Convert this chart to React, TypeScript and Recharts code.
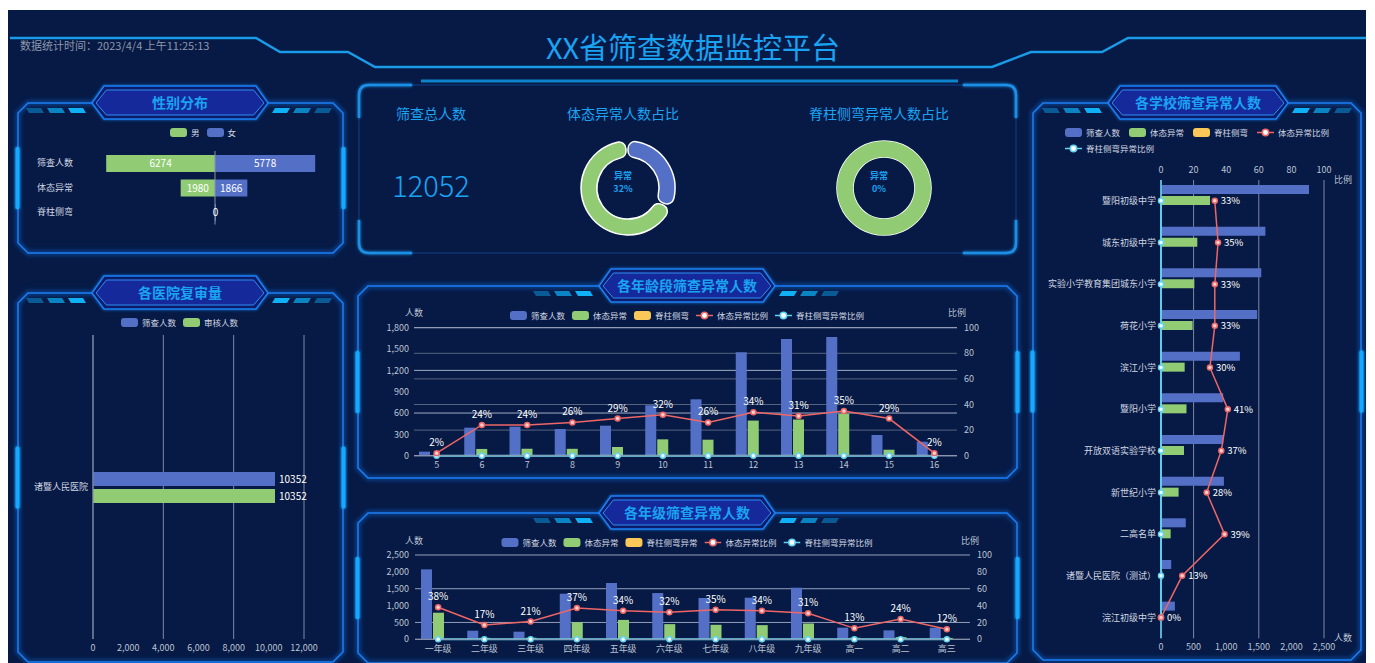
import React from 'react';
import {
  BarChart, Bar, ComposedChart, Line, XAxis, YAxis, CartesianGrid, LabelList,
  PieChart, Pie, Cell, ReferenceLine,
} from 'recharts';

const FONT = '"Noto Sans CJK SC", "Noto Sans", sans-serif';
const BLUE = '#5470c6';
const GREEN = '#91cc75';
const YELLOW = '#fac858';
const RED = '#ee6666';
const CYAN = '#63d3f2';
const TITLE = '#1aa3f2';
const TICK = '#bcc3d2';
const LABEL = '#d2d7e2';

// 性别分布
const genderCats = ['筛查人数', '体态异常', '脊柱侧弯'];
const genderMale = [6274, 1980, 0];
const genderFemale = [5778, 1866, 0];

// 各医院复审量
const hospitalNames = ['诸暨人民医院'];
const hospitalScreened = [10352];
const hospitalReviewed = [10352];
const hospitalTicks = [0, 2000, 4000, 6000, 8000, 10000, 12000];

// 汇总
const totalScreened = 12052;
const postureAbnormalTotal = 3846;
const spineAbnormalTotal = 0;

// 各年龄段
const ageCats = ['5', '6', '7', '8', '9', '10', '11', '12', '13', '14', '15', '16'];
const ageScreened = [57, 394, 408, 375, 422, 709, 793, 1454, 1641, 1669, 291, 197];
const agePosture = [1, 95, 98, 97, 122, 230, 225, 494, 509, 590, 84, 4];
const ageSpine = [0, 0, 0, 0, 0, 0, 0, 0, 0, 0, 0, 0];
const agePostureRate = [2, 24, 24, 26, 29, 32, 26, 34, 31, 35, 29, 2];
const ageSpineRate = [0, 0, 0, 0, 0, 0, 0, 0, 0, 0, 0, 0];
const ageLeftTicks = [0, 300, 600, 900, 1200, 1500, 1800];
const rateTicks = [0, 20, 40, 60, 80, 100];

// 各年级
const gradeCats = ['一年级', '二年级', '三年级', '四年级', '五年级', '六年级', '七年级', '八年级', '九年级', '高一', '高二', '高三'];
const gradeScreened = [2075, 255, 225, 1352, 1669, 1372, 1224, 1234, 1530, 344, 266, 344];
const gradePosture = [789, 43, 47, 505, 575, 450, 430, 420, 470, 45, 64, 41];
const gradeSpine = [0, 0, 0, 0, 0, 0, 0, 0, 0, 0, 0, 0];
const gradePostureRate = [38, 17, 21, 37, 34, 32, 35, 34, 31, 13, 24, 12];
const gradeSpineRate = [0, 0, 0, 0, 0, 0, 0, 0, 0, 0, 0, 0];
const gradeLeftTicks = [0, 500, 1000, 1500, 2000, 2500];

// 各学校
const schoolNames = ['暨阳初级中学', '城东初级中学', '实验小学教育集团城东小学', '荷花小学', '滨江小学', '暨阳小学', '开放双语实验学校', '新世纪小学', '二高名单', '诸暨人民医院（测试）', '浣江初级中学'];
const schoolScreened = [2270, 1601, 1538, 1475, 1210, 954, 954, 965, 380, 157, 213];
const schoolPosture = [752, 557, 511, 485, 363, 391, 353, 270, 148, 20, 0];
const schoolSpine = [0, 0, 0, 0, 0, 0, 0, 0, 0, 0, 0];
const schoolPostureRate = [33, 35, 33, 33, 30, 41, 37, 28, 39, 13, 0];
const schoolSpineRate = [0, 0, 0, 0, 0, 0, 0, 0, 0, 0, 0];
const schoolCountTicks = [0, 500, 1000, 1500, 2000, 2500];

const genderData = genderCats.map((c, i) => ({ name: c, male: -genderMale[i], female: genderFemale[i] }));
const hospitalData = hospitalNames.map((n, i) => ({ name: n, screened: hospitalScreened[i], reviewed: hospitalReviewed[i] }));
const ageData = ageCats.map((c, i) => ({
  name: c, screened: ageScreened[i], posture: agePosture[i], spine: ageSpine[i],
  rate: agePostureRate[i], spineRate: ageSpineRate[i],
}));
const gradeData = gradeCats.map((c, i) => ({
  name: c, screened: gradeScreened[i], posture: gradePosture[i], spine: gradeSpine[i],
  rate: gradePostureRate[i], spineRate: gradeSpineRate[i],
}));
const schoolData = schoolNames.map((n, i) => ({
  name: n, screened: schoolScreened[i], posture: schoolPosture[i], spine: schoolSpine[i],
  rate: schoolPostureRate[i], spineRate: schoolSpineRate[i],
}));
const postureShare = Math.round((postureAbnormalTotal / totalScreened) * 100);
const spineShare = Math.round((spineAbnormalTotal / totalScreened) * 100);
const postureDonut = [
  { name: '异常', value: postureAbnormalTotal },
  { name: '正常', value: totalScreened - postureAbnormalTotal },
];
const spineDonut = [
  { name: '异常', value: spineAbnormalTotal },
  { name: '正常', value: totalScreened - spineAbnormalTotal },
];

const fmt = (v: number) => v.toLocaleString('en-US');
const pct = (v: any) => `${v}%`;
const tickStyle = { fill: TICK, fontSize: 9, fontFamily: FONT };

type LegendItem = { name: string; color: string; line?: boolean };

const Legend = ({ items, x, y, center, gap = 7 }: { items: LegendItem[]; x: number; y: number; center?: boolean; gap?: number }) => (
  <div style={{
    position: 'absolute', left: x, top: y, display: 'flex', alignItems: 'center', gap,
    transform: center ? 'translate(-50%, -50%)' : 'translateY(-50%)', whiteSpace: 'nowrap',
    fontFamily: FONT, fontSize: 8.5, color: LABEL,
  }}>
    {items.map((it) => (
      <div key={it.name} style={{ display: 'flex', alignItems: 'center', gap: 4 }}>
        {it.line ? (
          <svg width={17} height={9}>
            <line x1={0} y1={4.5} x2={17} y2={4.5} stroke={it.color} strokeWidth={1.5} />
            <circle cx={8.5} cy={4.5} r={3.2} fill="#fff" stroke={it.color} strokeWidth={1.5} />
          </svg>
        ) : (
          <div style={{ width: 17, height: 9, borderRadius: 3, background: it.color }} />
        )}
        <span>{it.name}</span>
      </div>
    ))}
  </div>
);

const Txt = ({ x, y, children, size = 9, color = TICK, weight = 400, lh = 1 }: any) => (
  <div style={{
    position: 'absolute', left: x, top: y, transform: 'translate(-50%, -50%)', whiteSpace: 'nowrap',
    fontFamily: FONT, fontSize: size, color, fontWeight: weight, lineHeight: lh, textAlign: 'center',
  }}>{children}</div>
);

const PanelFrame = ({ x, y, w, h, cx, title, tw = 176 }: any) => {
  const c = 10;
  const L = cx - tw / 2;
  const R = cx + tw / 2;
  const d = `M${L},${y} L${x + c},${y} L${x},${y + c} L${x},${y + h - c} L${x + c},${y + h} L${x + w - c},${y + h} L${x + w},${y + h - c} L${x + w},${y + c} L${x + w - c},${y} L${R},${y}`;
  const mid = y + h / 2;
  const hex = (i: number) =>
    `${L + i},${y} ${L + 12 + i * 0.6},${y - 17 + i} ${R - 12 - i * 0.6},${y - 17 + i} ${R - i},${y} ${R - 12 - i * 0.6},${y + 16 - i} ${L + 12 + i * 0.6},${y + 16 - i}`;
  const paraL = (px: number, py: number) => `${px},${py} ${px + 15},${py} ${px + 18},${py + 5} ${px + 3},${py + 5}`;
  const paraR = (px: number, py: number) => `${px + 3},${py} ${px + 18},${py} ${px + 15},${py + 5} ${px},${py + 5}`;
  const cols = ['#0a5a96', '#0b84c4', '#10b0f6'];
  return (
    <g>
      <path d={d} fill="none" stroke="#1670e6" strokeWidth={5} opacity={0.45} filter="url(#blur)" />
      <path d={d} fill="none" stroke="#1b7ff2" strokeWidth={1.5} />
      <rect x={x - 2.5} y={mid - 31} width={4} height={62} rx={1.5} fill="#14a8ff" filter="url(#glow)" />
      <rect x={x + w - 1.5} y={mid - 31} width={4} height={62} rx={1.5} fill="#14a8ff" filter="url(#glow)" />
      {[0, 1, 2].map((i) => <polygon key={'l' + i} points={paraL(L - 66 + i * 21, y + 5)} fill={cols[i]} />)}
      {[0, 1, 2].map((i) => <polygon key={'r' + i} points={paraR(R + 4 + i * 21, y + 5)} fill={cols[2 - i]} />)}
      <polygon points={hex(0)} fill="#0b1d6a" stroke="#1b7ff2" strokeWidth={1.5} filter="url(#glow)" />
      <polygon points={hex(4)} fill="#15299a" stroke="#2e8ef2" strokeWidth={1} />
      <text x={cx} y={y} dy="0.36em" textAnchor="middle" fill={TITLE} fontSize={14} fontWeight="bold" fontFamily={FONT}>{title}</text>
    </g>
  );
};

const GenderTick = (p: any) => (
  <text x={17} y={p.y} dy={3} fill={LABEL} fontSize={9} fontFamily={FONT}>{p.payload.value}</text>
);

const ringBase = [{ name: 'ring', value: 1 }];

const Donut = ({ cx, cy, data, share, full }: any) => (
  <>
    <div style={{ position: 'absolute', left: cx - 60, top: cy - 60 }}>
      <PieChart width={120} height={120}>
        {full && (
          <Pie data={ringBase} dataKey="value" cx={60} cy={60} innerRadius={30.2} outerRadius={47.8}
            startAngle={90} endAngle={-270} fill="#ffffff" stroke="none" isAnimationActive={false} />
        )}
        <Pie
          data={data} dataKey="value" cx={60} cy={60} innerRadius={31} outerRadius={47}
          startAngle={90} endAngle={-270} paddingAngle={full ? 0 : 3} cornerRadius={full ? 0 : 7}
          stroke={full ? 'none' : '#ffffff'} strokeWidth={1.5} isAnimationActive={false}
        >
          {data.map((d: any, i: number) => <Cell key={d.name} fill={i === 0 ? BLUE : GREEN} />)}
        </Pie>
      </PieChart>
    </div>
    <Txt x={cx} y={cy - 1} size={9} color={TITLE} weight={700} lh={1.45}>异常<br />{share}%</Txt>
  </>
);

const comboLegend = (spineName: string): LegendItem[] => [
  { name: '筛查人数', color: BLUE },
  { name: '体态异常', color: GREEN },
  { name: spineName, color: YELLOW },
  { name: '体态异常比例', color: RED, line: true },
  { name: '脊柱侧弯异常比例', color: CYAN, line: true },
];

const redDot = { r: 2.5, fill: '#ffd0d0', stroke: RED, strokeWidth: 1.5 };
const cyanDot = { r: 2.5, fill: '#ffffff', stroke: CYAN, strokeWidth: 1.5 };

export default function App() {
  return (
    <div style={{ position: 'absolute', left: 0, top: 0, width: 1375, height: 663, overflow: 'hidden', fontFamily: FONT }}>
      <div style={{ position: 'absolute', left: 8, top: 10, width: 1358, height: 653, background: '#061a45' }} />

      <svg width={1375} height={663} style={{ position: 'absolute', left: 0, top: 0 }}>
        <defs>
          <filter id="blur" x="-5%" y="-5%" width="110%" height="110%">
            <feGaussianBlur stdDeviation="2" />
          </filter>
          <filter id="glow" x="-50%" y="-50%" width="200%" height="200%">
            <feGaussianBlur stdDeviation="1.5" result="b" />
            <feMerge><feMergeNode in="b" /><feMergeNode in="SourceGraphic" /></feMerge>
          </filter>
        </defs>
        {/* header */}
        <path d="M10,38 L256,38 L280,52 L348,52 L375,67 L992,67 L1031,52 L1102,52 L1128,38 L1366,38"
          fill="none" stroke="#1a9be8" strokeWidth={2.5} />
        <line x1={421} y1={81} x2={958} y2={81} stroke="#0d84cc" strokeWidth={3} />

        {/* top centre frame */}
        <rect x={359} y={85} width={657} height={168} rx={10} fill="none" stroke="#123f86" strokeWidth={1} />
        <g fill="none" stroke="#1d8fe6" strokeWidth={2.5} filter="url(#glow)">
          <path d="M359,118 L359,95 Q359,85 369,85 L412,85" />
          <path d="M1016,118 L1016,95 Q1016,85 1006,85 L963,85" />
          <path d="M359,220 L359,243 Q359,253 369,253 L412,253" />
          <path d="M1016,220 L1016,243 Q1016,253 1006,253 L963,253" />
        </g>

        <PanelFrame x={18} y={103} w={325} h={150} cx={180} title="性别分布" />
        <PanelFrame x={18} y={293} w={325} h={369} cx={180} title="各医院复审量" />
        <PanelFrame x={358} y={286} w={659} h={192} cx={687} title="各年龄段筛查异常人数" />
        <PanelFrame x={358} y={513} w={659} h={150} cx={687} title="各年级筛查异常人数" />
        <PanelFrame x={1033} y={103} w={328} h={557} cx={1198} tw={180} title="各学校筛查异常人数" />
      </svg>

      {/* header text */}
      <div style={{ position: 'absolute', left: 20, top: 45, transform: 'translateY(-50%)', fontSize: 11, color: '#8e97ab', whiteSpace: 'nowrap', lineHeight: 1 }}>
        数据统计时间：2023/4/4 上午11:25:13
      </div>
      <Txt x={693} y={46} size={29} color={TITLE}>XX省筛查数据监控平台</Txt>

      {/* 性别分布 */}
      <Legend x={170} y={132} gap={7} items={[{ name: '男', color: GREEN }, { name: '女', color: BLUE }]} />
      <div style={{ position: 'absolute', left: 20, top: 140 }}>
        <BarChart layout="vertical" width={320} height={95} data={genderData} stackOffset="sign"
          margin={{ top: 11, right: 10, bottom: 10.5, left: 0 }} barSize={17}>
          <XAxis type="number" hide domain={[-7785, 6632]} allowDataOverflow />
          <YAxis type="category" dataKey="name" width={60} axisLine={false} tickLine={false} tick={GenderTick} interval={0} />
          <Bar dataKey="male" stackId="g" fill={GREEN} isAnimationActive={false}>
            <LabelList dataKey="male" position="center" fill="#fff" fontSize={10} formatter={(v: any) => Math.abs(v)} />
          </Bar>
          <Bar dataKey="female" stackId="g" fill={BLUE} minPointSize={1} isAnimationActive={false}>
            <LabelList dataKey="female" position="center" fill="#fff" fontSize={10} />
          </Bar>
          <ReferenceLine x={0} stroke="#8a93a8" strokeWidth={1} />
        </BarChart>
      </div>

      {/* 各医院复审量 */}
      <Legend x={121} y={322} gap={7} items={[{ name: '筛查人数', color: BLUE }, { name: '审核人数', color: GREEN }]} />
      <div style={{ position: 'absolute', left: 15, top: 325 }}>
        <BarChart layout="vertical" width={330} height={335} data={hospitalData}
          margin={{ top: 10, right: 41, bottom: 1, left: 0 }} barSize={14} barGap={3}>
          <CartesianGrid horizontal={false} stroke="#7d89a6" />
          <XAxis type="number" domain={[0, 12000]} ticks={hospitalTicks} tickFormatter={fmt} height={20}
            axisLine={false} tickLine={false} tickSize={4} tickMargin={2} tick={tickStyle} />
          <YAxis type="category" dataKey="name" width={78} axisLine={{ stroke: '#7d89a6' }} tickLine={false}
            tickSize={4} tickMargin={1} tick={{ ...tickStyle, fill: LABEL }} />
          <Bar dataKey="screened" fill={BLUE} isAnimationActive={false}>
            <LabelList dataKey="screened" position="right" offset={4} fill="#fff" fontSize={10} />
          </Bar>
          <Bar dataKey="reviewed" fill={GREEN} isAnimationActive={false}>
            <LabelList dataKey="reviewed" position="right" offset={4} fill="#fff" fontSize={10} />
          </Bar>
        </BarChart>
      </div>

      {/* 汇总 */}
      <Txt x={431} y={113} size={14} color={TITLE}>筛查总人数</Txt>
      <Txt x={431} y={184} size={29} color={TITLE} weight={300}>{totalScreened}</Txt>
      <Txt x={623} y={113} size={14} color={TITLE}>体态异常人数占比</Txt>
      <Txt x={879} y={113} size={14} color={TITLE}>脊柱侧弯异常人数占比</Txt>
      <Donut cx={623} cy={183} data={postureDonut} share={postureShare} />
      <Donut cx={879} cy={183} data={spineDonut} share={spineShare} full />

      {/* 各年龄段 */}
      <Legend x={687} y={315} center gap={7} items={comboLegend('脊柱侧弯')} />
      <Txt x={414} y={312}>人数</Txt>
      <Txt x={957} y={312}>比例</Txt>
      <div style={{ position: 'absolute', left: 358, top: 300 }}>
        <ComposedChart width={660} height={175} data={ageData} margin={{ top: 27.7, right: 0, bottom: 0, left: 0 }}
          barSize={11} barGap={1}>
          <CartesianGrid yAxisId="right" vertical={false} stroke="#56637f" />
          <CartesianGrid yAxisId="left" vertical={false} stroke="#a3adc5" />
          <XAxis dataKey="name" height={19.3} axisLine={{ stroke: '#8a93a8' }} tickLine={false}
            tickSize={4} tickMargin={2} tick={tickStyle} interval={0} />
          <YAxis yAxisId="left" width={56} domain={[0, 1800]} ticks={ageLeftTicks} tickFormatter={fmt}
            axisLine={false} tickLine={false} tickSize={0} tickMargin={5} tick={tickStyle} />
          <YAxis yAxisId="right" orientation="right" width={61} domain={[0, 100]} ticks={rateTicks}
            axisLine={false} tickLine={false} tickSize={0} tickMargin={7} tick={tickStyle} />
          <Bar yAxisId="left" dataKey="screened" fill={BLUE} isAnimationActive={false} />
          <Bar yAxisId="left" dataKey="posture" fill={GREEN} isAnimationActive={false} />
          <Bar yAxisId="left" dataKey="spine" fill={YELLOW} isAnimationActive={false} />
          <Line yAxisId="right" dataKey="spineRate" stroke={CYAN} strokeWidth={2} dot={cyanDot} activeDot={false} isAnimationActive={false} />
          <Line yAxisId="right" dataKey="rate" stroke={RED} strokeWidth={1.5} dot={redDot} activeDot={false} isAnimationActive={false}>
            <LabelList dataKey="rate" position="top" offset={7} fill="#fff" fontSize={10} formatter={pct} />
          </Line>
        </ComposedChart>
      </div>

      {/* 各年级 */}
      <Legend x={687} y={542} center gap={7} items={comboLegend('脊柱侧弯异常')} />
      <Txt x={414} y={540}>人数</Txt>
      <Txt x={970} y={540}>比例</Txt>
      <div style={{ position: 'absolute', left: 358, top: 545 }}>
        <ComposedChart width={660} height={114.3} data={gradeData} margin={{ top: 10, right: 0, bottom: 0, left: 0 }}
          barSize={11} barGap={1}>
          <CartesianGrid yAxisId="left" vertical={false} stroke="#95a0ba" />
          <XAxis dataKey="name" height={20} axisLine={{ stroke: '#8a93a8' }} tickLine={false}
            tickSize={4} tickMargin={2} tick={tickStyle} interval={0} />
          <YAxis yAxisId="left" width={57} domain={[0, 2500]} ticks={gradeLeftTicks} tickFormatter={fmt}
            axisLine={false} tickLine={false} tickSize={0} tickMargin={6} tick={tickStyle} />
          <YAxis yAxisId="right" orientation="right" width={48} domain={[0, 100]} ticks={rateTicks}
            axisLine={false} tickLine={false} tickSize={0} tickMargin={7} tick={tickStyle} />
          <Bar yAxisId="left" dataKey="screened" fill={BLUE} isAnimationActive={false} />
          <Bar yAxisId="left" dataKey="posture" fill={GREEN} isAnimationActive={false} />
          <Bar yAxisId="left" dataKey="spine" fill={YELLOW} isAnimationActive={false} />
          <Line yAxisId="right" dataKey="spineRate" stroke={CYAN} strokeWidth={2} dot={cyanDot} activeDot={false} isAnimationActive={false} />
          <Line yAxisId="right" dataKey="rate" stroke={RED} strokeWidth={1.5} dot={redDot} activeDot={false} isAnimationActive={false}>
            <LabelList dataKey="rate" position="top" offset={7} fill="#fff" fontSize={10} formatter={pct} />
          </Line>
        </ComposedChart>
      </div>

      {/* 各学校 */}
      <Legend x={1065} y={132} gap={9} items={comboLegend('脊柱侧弯').slice(0, 4)} />
      <Legend x={1065} y={148} gap={9} items={comboLegend('脊柱侧弯').slice(4)} />
      <Txt x={1343} y={179}>比例</Txt>
      <Txt x={1343} y={637}>人数</Txt>
      <div style={{ position: 'absolute', left: 1035, top: 160 }}>
        <ComposedChart layout="vertical" width={325} height={500} data={schoolData}
          margin={{ top: 0, right: 36, bottom: 1.7, left: 0 }} barSize={9} barGap={2}>
          <CartesianGrid horizontal={false} xAxisId="count" stroke="#7d89a6" />
          <XAxis xAxisId="ratio" orientation="top" type="number" domain={[0, 100]} ticks={rateTicks} height={20}
            axisLine={false} tickLine={false} tickSize={4} tickMargin={3} tick={tickStyle} />
          <XAxis xAxisId="count" orientation="bottom" type="number" domain={[0, 2500]} ticks={schoolCountTicks}
            tickFormatter={fmt} height={20} axisLine={false} tickLine={false} tickSize={3} tickMargin={2} tick={tickStyle} />
          <YAxis type="category" dataKey="name" width={126} axisLine={{ stroke: CYAN, strokeWidth: 1.5 }} tickLine={false}
            tickSize={3} tickMargin={2} tick={{ ...tickStyle, fill: LABEL }} interval={0} />
          <Bar xAxisId="count" dataKey="screened" fill={BLUE} isAnimationActive={false} />
          <Bar xAxisId="count" dataKey="posture" fill={GREEN} isAnimationActive={false} />
          <Bar xAxisId="count" dataKey="spine" fill={YELLOW} isAnimationActive={false} />
          <Line xAxisId="ratio" dataKey="spineRate" stroke={CYAN} strokeWidth={1.5} dot={cyanDot} activeDot={false} isAnimationActive={false} />
          <Line xAxisId="ratio" dataKey="rate" stroke={RED} strokeWidth={1.5} dot={redDot} activeDot={false} isAnimationActive={false}>
            <LabelList dataKey="rate" position="right" offset={6} fill="#fff" fontSize={9.5} formatter={pct} />
          </Line>
        </ComposedChart>
      </div>
    </div>
  );
}
